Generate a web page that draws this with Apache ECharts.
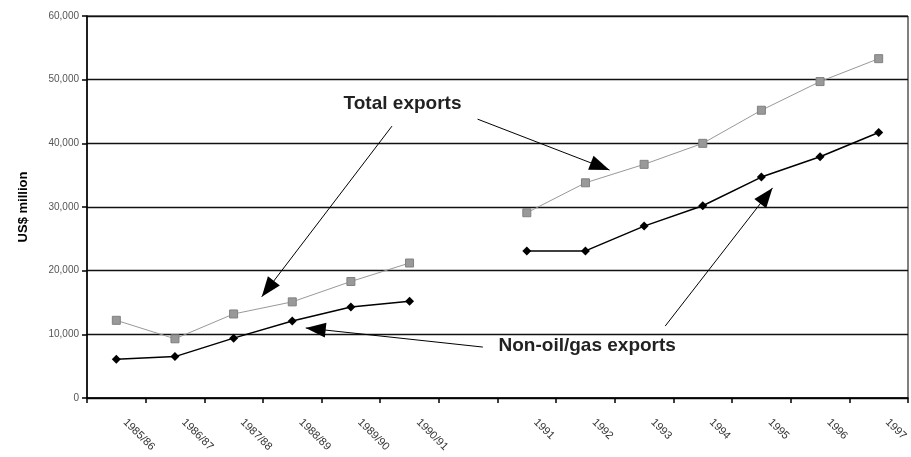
<!DOCTYPE html>
<html>
<head>
<meta charset="utf-8">
<script src="https://cdn.jsdelivr.net/npm/echarts@6/dist/echarts.min.js"></script>
<style>html,body{margin:0;padding:0;background:#fff;}#c{width:911px;height:457px;}</style>
</head>
<body>
<div id="c"></div>
<script>
const categories = ['1985/86','1986/87','1987/88','1988/89','1989/90','1990/91','','1991','1992','1993','1994','1995','1996','1997'];
const totalExports = [12200, 9300, 13200, 15100, 18300, 21200, null, 29100, 33800, 36700, 40000, 45200, 49700, 53300];
const nonOilGasExports = [6100, 6500, 9400, 12100, 14300, 15200, null, 23100, 23100, 27000, 30200, 34700, 37900, 41700];
const yTicks = [0, 10000, 20000, 30000, 40000, 50000, 60000];

// annotation arrows in (category index, value) space: [start, tip]
const arrows = [
  [[4.70, 42700], [2.48, 15900]],
  [[6.16, 43800], [8.41, 35800]],
  [[6.25, 8000], [3.23, 11000]],
  [[9.36, 11300], [11.19, 33000]]
];
const notes = [
  {text: 'Total exports', at: [4.88, 46200]},
  {text: 'Non-oil/gas exports', at: [8.03, 8200]}
];

const fmt = v => String(v).replace(/\B(?=(\d{3})+(?!\d))/g, ',');

const chart = echarts.init(document.getElementById('c'));
chart.setOption({
  animation: false,
  backgroundColor: '#fff',
  grid: {left: 87, right: 3, top: 16, bottom: 59, show: true, borderColor: '#000', borderWidth: 1},
  xAxis: [{
    type: 'category',
    data: categories,
    boundaryGap: true,
    axisLine: {onZero: false, lineStyle: {color: '#000', width: 1.5}},
    axisTick: {show: true, length: 5, lineStyle: {color: '#000', width: 1.5}},
    axisLabel: {rotate: -45, margin: 14, padding: [0, 0, 0, 12], fontFamily: 'Liberation Sans, Arial', fontSize: 11, color: '#333', interval: 0},
    splitLine: {show: false}
  }, {
    type: 'value', min: -0.5, max: 13.5, show: false
  }],
  yAxis: {
    type: 'value', min: yTicks[0], max: yTicks[yTicks.length - 1], interval: 10000,
    name: 'US$ million', nameLocation: 'middle', nameGap: 57,
    nameTextStyle: {fontFamily: 'Liberation Sans, Arial', fontWeight: 'bold', fontSize: 13, color: '#000'},
    axisLine: {show: true, onZero: false, lineStyle: {color: '#000', width: 1.5}},
    axisTick: {show: true, length: 5, lineStyle: {color: '#000', width: 1.5}},
    axisLabel: {formatter: fmt, fontFamily: 'Liberation Sans, Arial', fontSize: 10, color: '#555', margin: 8},
    splitLine: {show: true, lineStyle: {color: '#111', width: 1.3}}
  },
  series: [{
    name: 'Total exports',
    type: 'line',
    data: totalExports,
    connectNulls: false,
    symbol: 'rect', symbolSize: 8,
    lineStyle: {color: '#999', width: 1},
    itemStyle: {color: '#999', borderColor: '#808080', borderWidth: 1},
    z: 3
  }, {
    name: 'Non-oil/gas exports',
    type: 'line',
    data: nonOilGasExports,
    connectNulls: false,
    symbol: 'diamond', symbolSize: 9,
    lineStyle: {color: '#000', width: 1.5},
    itemStyle: {color: '#000'},
    z: 4
  }, {
    type: 'scatter',
    xAxisIndex: 1,
    data: [],
    silent: true,
    markLine: {
      silent: true,
      symbol: ['none', 'triangle'],
      symbolSize: [15, 20],
      symbolOffset: [[0, 0], [0, 10]],
      label: {show: false},
      lineStyle: {color: '#000', width: 1, type: 'solid'},
      data: arrows.map(a => [{coord: a[0]}, {coord: a[1]}])
    },
    markPoint: {
      silent: true,
      symbol: 'circle', symbolSize: 0,
      label: {show: true, position: 'inside', formatter: p => p.name,
        fontFamily: 'Liberation Sans, Arial', fontWeight: 'bold', fontSize: 19, color: '#222'},
      data: notes.map(n => ({name: n.text, coord: n.at}))
    }
  }]
});
</script>
</body>
</html>
